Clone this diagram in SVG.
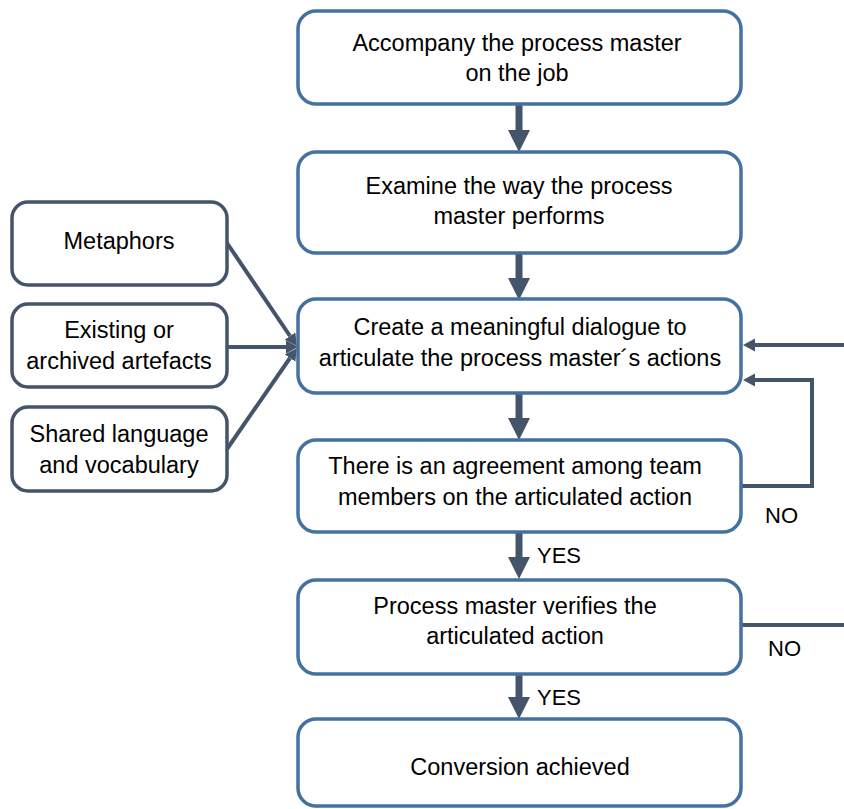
<svg xmlns="http://www.w3.org/2000/svg" width="844" height="809" viewBox="0 0 844 809">
  <style>
    .step { fill: #ffffff; stroke: #4472a0; stroke-width: 3.5; }
    .input { fill: #ffffff; stroke: #44546a; stroke-width: 3.5; }
    .label { font-family: "Liberation Sans", Arial, sans-serif; font-size: 23.5px; fill: #000000; text-anchor: middle; }
    .tag { font-family: "Liberation Sans", Arial, sans-serif; font-size: 22px; fill: #000000; }
    .flow { fill: none; stroke: #44546a; stroke-width: 7; }
    .link { fill: none; stroke: #44546a; stroke-width: 4; }
  </style>
  <defs>
    <marker id="bigHead" markerUnits="userSpaceOnUse" markerWidth="24" markerHeight="24" refX="0" refY="11" orient="auto">
      <path d="M0,0 L22,11 L0,22 Z" fill="#44546a"/>
    </marker>
    <marker id="smallHead" markerUnits="userSpaceOnUse" markerWidth="14" markerHeight="14" refX="0" refY="6.5" orient="auto">
      <path d="M0,0 L12,6.5 L0,13 Z" fill="#44546a"/>
    </marker>
  </defs>

  <!-- connectors -->
  <g id="connectors">
    <line class="flow" x1="519" y1="104" x2="519" y2="130" marker-end="url(#bigHead)"/>
    <line class="flow" x1="519" y1="253" x2="519" y2="278" marker-end="url(#bigHead)"/>
    <line class="flow" x1="519" y1="393" x2="519" y2="418" marker-end="url(#bigHead)"/>
    <line class="flow" x1="519" y1="532" x2="519" y2="557" marker-end="url(#bigHead)"/>
    <line class="flow" x1="519" y1="674" x2="519" y2="697" marker-end="url(#bigHead)"/>

    <!-- inputs feeding the dialogue step -->
    <line class="link" x1="227" y1="243" x2="290" y2="336" marker-end="url(#smallHead)"/>
    <line class="link" x1="227" y1="347" x2="286" y2="347" marker-end="url(#smallHead)"/>
    <line class="link" x1="227" y1="449" x2="290" y2="358" marker-end="url(#smallHead)"/>

    <!-- NO from verification returns to the dialogue -->
    <line class="link" x1="741" y1="625" x2="844" y2="625"/>
    <line class="link" x1="844" y1="345" x2="755" y2="345" marker-end="url(#smallHead)"/>

    <!-- NO from agreement loops back -->
    <polyline class="link" points="741,486 812,486 812,380 755,380" marker-end="url(#smallHead)"/>

    <text class="tag" x="765" y="523">NO</text>
    <text class="tag" x="768" y="656">NO</text>
    <text class="tag" x="537" y="563">YES</text>
    <text class="tag" x="537" y="705">YES</text>
  </g>

  <g id="accompany">
    <rect class="step" x="298" y="11" width="443" height="93" rx="18"/>
    <text class="label" x="517" y="51">Accompany the process master</text>
    <text class="label" x="517" y="81">on the job</text>
  </g>

  <g id="examine">
    <rect class="step" x="298" y="152" width="443" height="101" rx="18"/>
    <text class="label" x="519" y="194">Examine the way the process</text>
    <text class="label" x="519" y="224">master performs</text>
  </g>

  <g id="dialogue">
    <rect class="step" x="298" y="299" width="443" height="94" rx="18"/>
    <text class="label" x="520" y="335">Create a meaningful dialogue to</text>
    <text class="label" x="520" y="366">articulate the process master´s actions</text>
  </g>

  <g id="agreement">
    <rect class="step" x="298" y="440" width="443" height="92" rx="18"/>
    <text class="label" x="515" y="474">There is an agreement among team</text>
    <text class="label" x="515" y="505">members on the articulated action</text>
  </g>

  <g id="verify">
    <rect class="step" x="298" y="580" width="443" height="94" rx="18"/>
    <text class="label" x="515" y="614">Process master verifies the</text>
    <text class="label" x="515" y="644">articulated action</text>
  </g>

  <g id="achieved">
    <rect class="step" x="298" y="719" width="443" height="87" rx="18"/>
    <text class="label" x="520" y="775">Conversion achieved</text>
  </g>

  <g id="metaphors">
    <rect class="input" x="12" y="202" width="215" height="83" rx="16"/>
    <text class="label" x="119" y="249">Metaphors</text>
  </g>

  <g id="artefacts">
    <rect class="input" x="12" y="304" width="215" height="83" rx="16"/>
    <text class="label" x="119" y="338">Existing or</text>
    <text class="label" x="119" y="369">archived artefacts</text>
  </g>

  <g id="vocabulary">
    <rect class="input" x="12" y="407" width="215" height="84" rx="16"/>
    <text class="label" x="119" y="442">Shared language</text>
    <text class="label" x="119" y="473">and vocabulary</text>
  </g>
</svg>
